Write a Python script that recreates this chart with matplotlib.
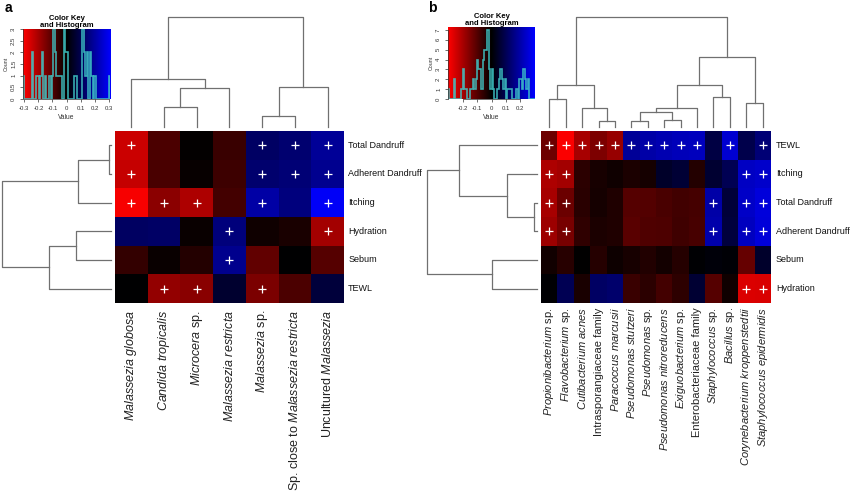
import numpy as np
import matplotlib
matplotlib.use('Agg')
import matplotlib.pyplot as plt
from matplotlib.colors import LinearSegmentedColormap

plt.rcParams['font.family'] = ['Liberation Sans', 'DejaVu Sans']
plt.rcParams['mathtext.fontset'] = 'custom'
plt.rcParams['mathtext.rm'] = 'Liberation Sans'
plt.rcParams['mathtext.it'] = 'Liberation Sans:italic'
plt.rcParams['axes.unicode_minus'] = False

# ---- panel a: fungi ----
rows_a = ['Total Dandruff', 'Adherent Dandruff', 'Itching', 'Hydration', 'Sebum', 'TEWL']
cols_a = [r'$\mathit{Malassezia\ globosa}$',
          r'$\mathit{Candida\ tropicalis}$',
          r'$\mathit{Microcera}$ sp.',
          r'$\mathit{Malassezia\ restricta}$',
          r'$\mathit{Malassezia}$ sp.',
          r'Sp. close to $\mathit{Malassezia\ restricta}$',
          r'Uncultured $\mathit{Malassezia}$']
vals_a = np.array([
    [-0.245, -0.092, -0.004, -0.068, 0.121, 0.134, 0.182],
    [-0.238, -0.088, -0.008, -0.074, 0.132, 0.141, 0.172],
    [-0.300, -0.168, -0.210, -0.082, 0.200, 0.152, 0.300],
    [0.118, 0.122, -0.012, 0.148, -0.018, -0.031, -0.198],
    [-0.062, -0.011, -0.042, 0.170, -0.118, 0.002, -0.102],
    [0.001, -0.178, -0.166, 0.058, -0.148, -0.091, 0.071],
])
sig_a = np.array([
    [1, 0, 0, 0, 1, 1, 1],
    [1, 0, 0, 0, 1, 1, 1],
    [1, 1, 1, 0, 1, 0, 1],
    [0, 0, 0, 1, 0, 0, 1],
    [0, 0, 0, 1, 0, 0, 0],
    [0, 1, 1, 0, 1, 0, 0],
])
# merges: (left, right, height); ids >= n are earlier merges
link_rows_a = [(0, 1, 2), (6, 2, 33), (3, 4, 35), (8, 5, 62), (7, 9, 109)]
link_cols_a = [(1, 2, 20), (7, 3, 39), (0, 8, 48), (4, 5, 11), (10, 6, 40), (9, 11, 110)]

# ---- panel b: bacteria ----
rows_b = ['TEWL', 'Itching', 'Total Dandruff', 'Adherent Dandruff', 'Sebum', 'Hydration']
cols_b = [r'$\mathit{Propionibacterium}$ sp.',
          r'$\mathit{Flavobacterium}$ sp.',
          r'$\mathit{Cutibacterium\ acnes}$',
          'Intrasporangiaceae family',
          r'$\mathit{Paracoccus\ marcusii}$',
          r'$\mathit{Pseudomonas\ stutzeri}$',
          r'$\mathit{Pseudomonas}$ sp.',
          r'$\mathit{Pseudomonas\ nitroreducens}$',
          r'$\mathit{Exiguobacterium}$ sp.',
          'Enterobacteriaceae family',
          r'$\mathit{Staphylococcus}$ sp.',
          r'$\mathit{Bacillus}$ sp.',
          r'$\mathit{Corynebacterium\ kroppenstedtii}$',
          r'$\mathit{Staphylococcus\ epidermidis}$']
vals_b = np.array([
    [-0.130, -0.300, -0.200, -0.150, -0.180, 0.180, 0.200, 0.210, 0.220, 0.225, 0.080, 0.250, 0.090, 0.140],
    [-0.205, -0.195, -0.052, -0.028, -0.018, -0.031, -0.026, 0.048, 0.062, -0.041, 0.058, 0.100, 0.232, 0.242],
    [-0.200, -0.128, -0.048, -0.024, -0.036, -0.102, -0.098, -0.088, -0.078, -0.082, 0.198, 0.068, 0.238, 0.262],
    [-0.188, -0.142, -0.055, -0.033, -0.038, -0.105, -0.095, -0.092, -0.076, -0.084, 0.204, 0.072, 0.228, 0.258],
    [-0.021, -0.046, -0.002, -0.044, -0.016, -0.027, -0.039, -0.023, -0.043, 0.004, 0.011, 0.006, -0.120, 0.052],
    [0.003, 0.098, -0.029, 0.118, 0.128, -0.068, -0.051, -0.079, -0.053, 0.061, -0.101, -0.019, -0.262, -0.258],
])
sig_b = np.array([
    [1, 1, 1, 1, 1, 1, 1, 1, 1, 1, 0, 1, 0, 1],
    [1, 1, 0, 0, 0, 0, 0, 0, 0, 0, 0, 0, 1, 1],
    [1, 1, 0, 0, 0, 0, 0, 0, 0, 0, 1, 0, 1, 1],
    [1, 1, 0, 0, 0, 0, 0, 0, 0, 0, 1, 0, 1, 1],
    [0, 0, 0, 0, 0, 0, 0, 0, 0, 0, 0, 0, 0, 0],
    [0, 0, 0, 0, 0, 0, 0, 0, 0, 0, 0, 0, 1, 1],
])
link_rows_b = [(2, 3, 3), (1, 6, 30), (0, 7, 78), (4, 5, 45), (8, 9, 110)]
link_cols_b = [(0, 1, 28), (3, 4, 6), (2, 15, 19), (14, 16, 42), (5, 6, 6), (7, 8, 7),
               (18, 19, 15), (20, 9, 19), (10, 11, 30), (21, 22, 42), (12, 13, 24),
               (23, 24, 70), (17, 25, 110)]

W, H = 850, 493
cmap = LinearSegmentedColormap.from_list('rkb', ['#ff0000', '#000000', '#0000ff'])
fig = plt.figure(figsize=(W / 100, H / 100), dpi=100)


def ax_px(x0, y0, x1, y1):
    ax = fig.add_axes([x0 / W, 1 - y1 / H, (x1 - x0) / W, (y1 - y0) / H])
    return ax


def draw_dendro(ax, links, n, side):
    pos = {i: i + 0.5 for i in range(n)}
    hgt = {i: 0.0 for i in range(n)}
    for k, (a, b, h) in enumerate(links):
        p = [pos[a], pos[a], pos[b], pos[b]]
        q = [hgt[a], h, h, hgt[b]]
        if side == 'top':
            ax.plot(p, q, color='#707070', lw=0.9, clip_on=False)
        else:
            ax.plot(q, p, color='#707070', lw=0.9, clip_on=False)
        pos[n + k] = (pos[a] + pos[b]) / 2
        hgt[n + k] = h
    hmax = max(l[2] for l in links)
    if side == 'top':
        ax.set_xlim(0, n)
        ax.set_ylim(0, hmax)
    else:
        ax.set_ylim(n, 0)
        ax.set_xlim(hmax, 0)
    ax.axis('off')


def draw_heat(ax, vals, sig, vlim, rlabels, clabels, cfs, rpad, cpad):
    nr, nc = vals.shape
    ax.pcolormesh(vals, cmap=cmap, vmin=-vlim, vmax=vlim)
    rr, cc = np.nonzero(sig)
    ax.scatter(cc + 0.5, rr + 0.5, marker='+', c='white', s=28, linewidths=0.9)
    ax.set_xlim(0, nc)
    ax.set_ylim(nr, 0)
    ax.axis('off')
    for i, lab in enumerate(rlabels):
        ax.annotate(lab, xy=(1, i + 0.5), xycoords=('axes fraction', 'data'),
                    xytext=(rpad, 0), textcoords='offset points',
                    ha='left', va='center', fontsize=6.5, color='#111111')
    for j, lab in enumerate(clabels):
        ax.annotate(lab, xy=(j + 0.5, 0), xycoords=('data', 'axes fraction'),
                    xytext=(0, -cpad), textcoords='offset points', rotation=90,
                    ha='center', va='top', fontsize=cfs, color='#222222')


def draw_key(ax, vals, vlim, ytop, yticks, xticks):
    grad = np.linspace(-vlim, vlim, 256)[None, :]
    ax.imshow(grad, cmap=cmap, vmin=-vlim, vmax=vlim, aspect='auto',
              extent=(-vlim, vlim, 0, ytop))
    counts, edges = np.histogram(vals.ravel(), bins=np.linspace(-vlim, vlim, 61))
    ax.stairs(counts, edges, color='#3fc8c8', lw=1.2, alpha=0.85)
    ax.set_xlim(-vlim, vlim)
    ax.set_ylim(0, ytop)
    ax.set_xticks(xticks)
    ax.set_xticklabels(['%g' % t for t in xticks])
    ax.set_yticks(yticks)
    ax.set_yticklabels(['%g' % t for t in yticks], rotation=90, va='center')
    ax.tick_params(labelsize=4.3, length=2.5, width=0.5, pad=2.5, colors='#333333')
    for s in ['top', 'right']:
        ax.spines[s].set_visible(False)
    ax.spines['left'].set_bounds(yticks[0], yticks[-1])
    ax.spines['bottom'].set_bounds(xticks[0], xticks[-1])
    for s in ['left', 'bottom']:
        ax.spines[s].set_linewidth(0.5)
        ax.spines[s].set_color('#333333')
    ax.set_xlabel('Value', fontsize=4.8, labelpad=2, color='#333333')
    ax.set_ylabel('Count', fontsize=3.8, labelpad=2, color='#333333')
    ax.set_title('Color Key\nand Histogram', fontsize=5.5, fontweight='bold',
                 pad=1, linespacing=0.9)


# panel a
heat_a = ax_px(115, 131, 344, 303)
draw_heat(heat_a, vals_a, sig_a, 0.31, rows_a, cols_a, 9, 3, 5)
draw_dendro(ax_px(115, 17, 344, 127), link_cols_a, len(cols_a), 'top')
draw_dendro(ax_px(2, 131, 111, 303), link_rows_a, len(rows_a), 'left')
draw_key(ax_px(23, 29, 110, 99), vals_a, 0.31, 3.0,
         [0, 0.5, 1, 1.5, 2, 2.5, 3], [-0.3, -0.2, -0.1, 0, 0.1, 0.2, 0.3])

# panel b
heat_b = ax_px(541, 131, 771, 303)
draw_heat(heat_b, vals_b, sig_b, 0.305, rows_b, cols_b, 8, 3.6, 3)
draw_dendro(ax_px(541, 17, 771, 127), link_cols_b, len(cols_b), 'top')
draw_dendro(ax_px(427, 131, 537, 303), link_rows_b, len(rows_b), 'left')
draw_key(ax_px(448, 27, 535, 99), vals_b, 0.305, 7.3,
         [0, 1, 2, 3, 4, 5, 6, 7], [-0.2, -0.1, 0, 0.1, 0.2])

fig.text(5 / W, 1 - 8 / H, 'a', fontsize=10, fontweight='bold', va='center')
fig.text(428 / W, 1 - 8 / H, 'b', fontsize=10, fontweight='bold', va='center')

fig.savefig('out.png', dpi=100)
